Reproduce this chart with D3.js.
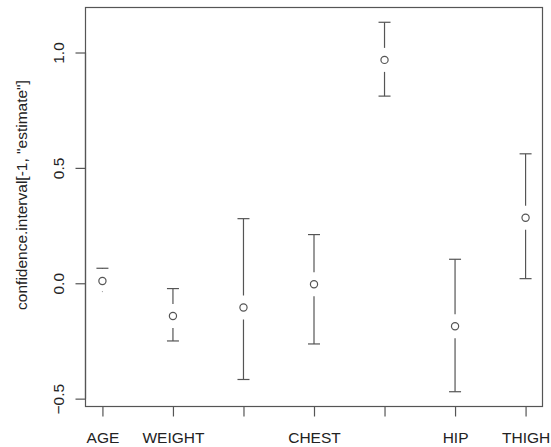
<!DOCTYPE html>
<html><head><meta charset="utf-8">
<script src="https://cdn.jsdelivr.net/npm/d3@7"></script>
<style>body{margin:0;background:#fff}svg{display:block}text{font-family:"Liberation Sans",Arial,sans-serif;fill:#222}</style>
</head><body>
<script>
const categories = ["AGE","WEIGHT","","CHEST","","HIP","THIGH"];
const estimate = [0.010, -0.142, -0.105, -0.004, 0.968, -0.186, 0.284];
const lower    = [-0.036, -0.250, -0.417, -0.263, 0.811, -0.470, 0.020];
const upper    = [0.065, -0.023, 0.280, 0.211, 1.131, 0.104, 0.561];
const yTicks = [-0.5, 0.0, 0.5, 1.0];
const yTitle = 'confidence.interval[-1, "estimate"]';

const W = 551, H = 447;
const box = {left: 85.5, right: 542.5, top: 7.5, bottom: 406.5};
const fs = "15.5px";
const svg = d3.select("body").append("svg").attr("width", W).attr("height", H);

const idx = d3.range(1, categories.length + 1);
const xr = [1, categories.length], xpad = (xr[1]-xr[0])*0.04;
const x = d3.scaleLinear().domain([xr[0]-xpad, xr[1]+xpad]).range([box.left, box.right]);
const ymin = d3.min(lower), ymax = d3.max(upper), ypad = (ymax-ymin)*0.04;
const y = d3.scaleLinear().domain([ymin-ypad, ymax+ypad]).range([box.bottom, box.top]);

const col = "#555";
// box
svg.append("rect").attr("x", box.left).attr("y", box.top)
  .attr("width", box.right-box.left).attr("height", box.bottom-box.top)
  .attr("fill","none").attr("stroke", col).attr("stroke-width", 1.2);

// y axis
const ya = svg.append("g").attr("transform", `translate(${box.left},0)`)
  .call(d3.axisLeft(y).tickValues(yTicks).tickSize(10).tickFormat(d3.format(".1f")).tickPadding(0));
ya.select(".domain").remove();
ya.selectAll(".tick line").attr("stroke", col).attr("stroke-width", 1.2);
ya.selectAll(".tick text").attr("transform","rotate(-90)").attr("x", 0).attr("y", -22)
  .attr("dy", 0).attr("text-anchor","middle").style("font-size", fs).attr("fill","#222");
svg.append("line").attr("x1", box.left).attr("x2", box.left)
  .attr("y1", y(yTicks[0])).attr("y2", y(yTicks[yTicks.length-1])).attr("stroke", col).attr("stroke-width", 1.2);

// x axis
const xa = svg.append("g").attr("transform", `translate(0,${box.bottom})`)
  .call(d3.axisBottom(x).tickValues(idx).tickSize(10).tickFormat((d,i)=>categories[i]).tickPadding(0));
xa.select(".domain").remove();
xa.selectAll(".tick line").attr("stroke", col).attr("stroke-width", 1.2);
xa.selectAll(".tick text").attr("y", 36).attr("dy", 0).style("font-size", fs).attr("fill","#222");
svg.append("line").attr("y1", box.bottom).attr("y2", box.bottom)
  .attr("x1", x(1)).attr("x2", x(categories.length)).attr("stroke", col).attr("stroke-width", 1.2);

// y title
svg.append("text").attr("transform", `translate(27,${(box.top+box.bottom)/2-12}) rotate(-90)`)
  .attr("text-anchor","middle").style("font-size", fs).text(yTitle);

// error bars
const gap = 12, head = 6;
const g = svg.append("g");
idx.forEach((d, i) => {
  const cx = x(d), cy = y(estimate[i]);
  [[upper[i], -1], [lower[i], 1]].forEach(([v, s]) => {
    const ey = y(v), sy = cy + s*gap;
    if ((ey - sy)*s > -0.6) {
      g.append("line").attr("x1", cx).attr("x2", cx).attr("y1", sy).attr("y2", ey)
        .attr("stroke", col).attr("stroke-width", 1.2);
      g.append("line").attr("x1", cx-head).attr("x2", cx+head).attr("y1", ey).attr("y2", ey)
        .attr("stroke", col).attr("stroke-width", 1.2);
    } else {
      g.append("circle").attr("cx", cx).attr("cy", ey).attr("r", 0.6).attr("fill", "#999");
    }
  });
  g.append("circle").attr("cx", cx).attr("cy", cy).attr("r", 3.6)
    .attr("fill","none").attr("stroke", col).attr("stroke-width", 1.2);
});
</script>
</body></html>
